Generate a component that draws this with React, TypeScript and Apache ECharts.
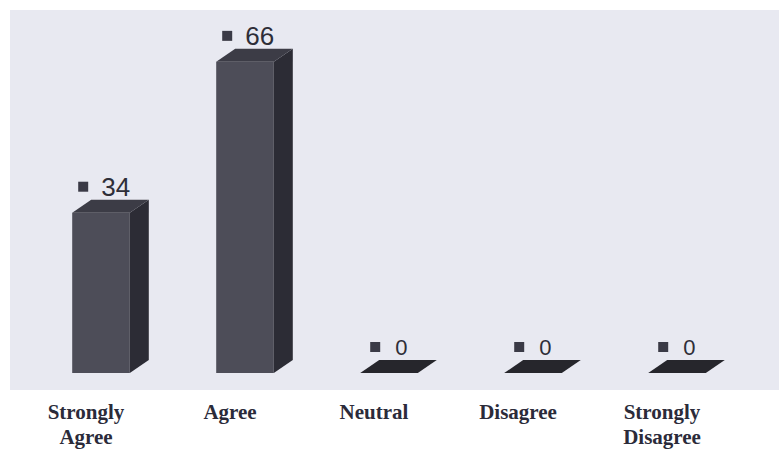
import React, { useEffect, useRef } from "react";
import * as echarts from "echarts";

const categories = ["Strongly\nAgree", "Agree", "Neutral", "Disagree", "Strongly\nDisagree"];
const values = [34, 66, 0, 0, 0];

export default function App() {
  const ref = useRef<HTMLDivElement>(null);
  useEffect(() => {
    const chart = echarts.init(ref.current!, null, { renderer: "svg" });
    const option = {
      animation: false,
      backgroundColor: "#ffffff",
      graphic: [
        {
          type: "rect",
          z: -10,
          silent: true,
          shape: { x: 10, y: 10, width: 769, height: 380 },
          style: { fill: "#e8e9f1" },
        },
      ],
      grid: { left: 14, right: 45, top: 43, bottom: 78 },
      xAxis: {
        type: "category",
        data: categories,
        axisLine: { show: false },
        axisTick: { show: false },
        axisLabel: {
          margin: 26,
          fontFamily: "Liberation Serif",
          fontWeight: "bold",
          fontSize: 21,
          lineHeight: 25,
          color: "#2b2b3a",
        },
      },
      yAxis: {
        type: "value",
        min: 0,
        max: 70,
        show: false,
        splitLine: { show: false },
      },
      series: [
        {
          type: "custom",
          data: values.map((v, i) => [i, v]),
          encode: { x: 0, y: 1 },
          renderItem: (params: any, api: any) => {
            const idx = api.value(0);
            const v = api.value(1);
            const base = api.coord([idx, 0]);
            const top = api.coord([idx, v]);
            const band = api.size([1, 0])[0];
            const w = band * 0.4;
            const cx = base[0] + 15;
            const x0 = cx - w / 2;
            const x1 = cx + w / 2;
            const yb = base[1];
            const yt = top[1];
            const dx = 19;
            const dy = 13;
            const zero = v === 0;
            const children: any[] = [];
            if (yb - yt > 0.5) {
              children.push({
                type: "polygon",
                shape: { points: [[x0, yt], [x1, yt], [x1, yb], [x0, yb]] },
                style: { fill: "#4d4d58" },
              });
              children.push({
                type: "polygon",
                shape: { points: [[x1, yt], [x1 + dx, yt - dy], [x1 + dx, yb - dy], [x1, yb]] },
                style: { fill: "#2c2c35" },
              });
            }
            children.push({
              type: "polygon",
              shape: { points: [[x0, yt], [x0 + dx, yt - dy], [x1 + dx, yt - dy], [x1, yt]] },
              style: { fill: zero ? "#26262c" : "#3c3c46" },
            });
            const ly = yt - 26;
            children.push({
              type: "rect",
              shape: { x: x0 + (zero ? 10 : 6), y: ly - 5, width: 10, height: 10 },
              style: { fill: "#3a3a46" },
            });
            children.push({
              type: "text",
              x: x0 + (zero ? 35 : 29),
              y: ly,
              style: {
                text: String(v),
                fontFamily: "Liberation Sans",
                fontSize: zero ? 22 : 26,
                fill: "#2e2e38",
                verticalAlign: "middle",
                align: "left",
              },
            });
            return { type: "group", children };
          },
        },
      ],
    };
    chart.setOption(option as any);
    return () => chart.dispose();
  }, []);
  return (
    <div
      ref={ref}
      style={{ position: "absolute", left: 0, top: 0, width: 779, height: 451 }}
    />
  );
}
